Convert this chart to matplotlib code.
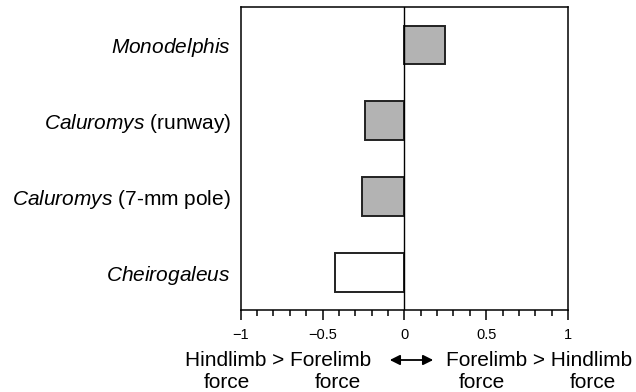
import matplotlib.pyplot as plt

# values
species = ['Monodelphis', 'Caluromys', 'Caluromys', 'Cheirogaleus']
conditions = ['', 'runway', '7-mm pole', '']
force_index = [0.246, -0.240, -0.257, -0.422]
xticks = [-1, -0.5, 0, 0.5, 1]
xtick_labels = ['\u22121', '\u22120.5', '0', '0.5', '1']

plt.rcParams['font.family'] = ['Liberation Sans', 'DejaVu Sans']
plt.rcParams['mathtext.fontset'] = 'custom'
plt.rcParams['mathtext.it'] = 'Liberation Sans:italic'
plt.rcParams['mathtext.rm'] = 'Liberation Sans'

labels = []
for sp, cond in zip(species, conditions):
    lab = r'$\mathit{' + sp + '}$'
    if cond:
        lab += ' (' + cond + ')'
    labels.append(lab)

fills = ['#b3b3b3', '#b3b3b3', '#b3b3b3', 'white']

fig = plt.figure(figsize=(6.36, 3.92), dpi=100)
ax = fig.add_axes([0.3785, 0.209, 0.5145, 0.773])

pos = list(range(len(species)))
ax.barh(pos, force_index, height=0.51, color=fills, edgecolor='#222222', linewidth=1.4)
ax.axvline(0, color='black', lw=1)

ax.set_xlim(-1, 1)
ax.set_ylim(len(species) - 0.5, -0.5)
ax.set_yticks(pos)
ax.set_yticklabels(labels, fontsize=15)
ax.tick_params(axis='y', length=0, pad=7)
ax.set_xticks(xticks)
ax.set_xticklabels(xtick_labels, fontsize=10.5)
ax.set_xticks([i / 10 for i in range(-10, 11)], minor=True)
ax.tick_params(axis='x', which='major', length=7, width=1.1, pad=6)
ax.tick_params(axis='x', which='minor', length=4.5, width=1.1)
for s in ax.spines.values():
    s.set_linewidth(1.1)

# direction labels under the axis
fs = 15
fig.text(278.5 / 636, 1 - 361 / 392, 'Hindlimb > Forelimb', ha='center', va='center', fontsize=fs)
fig.text(227 / 636, 1 - 383 / 392, 'force', ha='center', va='center', fontsize=fs)
fig.text(338 / 636, 1 - 383 / 392, 'force', ha='center', va='center', fontsize=fs)
fig.text(539 / 636, 1 - 361 / 392, 'Forelimb > Hindlimb', ha='center', va='center', fontsize=fs)
fig.text(482 / 636, 1 - 383 / 392, 'force', ha='center', va='center', fontsize=fs)
fig.text(593 / 636, 1 - 383 / 392, 'force', ha='center', va='center', fontsize=fs)
fig.patches.append(plt.matplotlib.patches.FancyArrowPatch(
    (387 / 636, 1 - 360 / 392), (436 / 636, 1 - 360 / 392),
    transform=fig.transFigure, arrowstyle='<|-|>', mutation_scale=15,
    color='black', lw=1.3))

fig.savefig('out.png', dpi=100)
